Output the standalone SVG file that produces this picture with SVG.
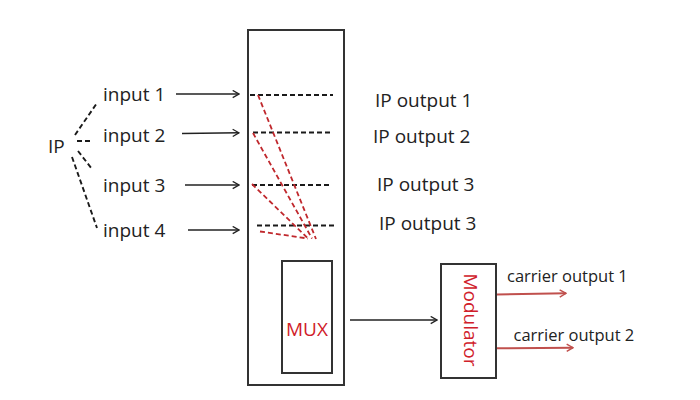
<svg xmlns="http://www.w3.org/2000/svg" width="700" height="400" viewBox="0 0 700 400">
<defs>
<style>
.t{font-family:"Open Sans","Liberation Sans",sans-serif;font-size:19px;fill:#222}
.c{font-family:"Open Sans","Liberation Sans",sans-serif;font-size:16.5px;fill:#222}
.r{fill:#d0202a}
.box{fill:#fff;stroke:#333;stroke-width:2}
.arr{stroke:#222;stroke-width:1.6;fill:none}
.dk{stroke:#1a1a1a;stroke-width:1.9;stroke-dasharray:5 3;fill:none}
.dr{stroke:#c0282d;stroke-width:1.8;stroke-dasharray:5 3;fill:none}
.ca{stroke:#c0504d;stroke-width:2;fill:none}
</style>
<marker id="ab" viewBox="0 0 10 10" refX="9" refY="5" markerWidth="9" markerHeight="9" markerUnits="userSpaceOnUse" orient="auto">
<path d="M2,1 L9,5 L2,9" fill="none" stroke="#222" stroke-width="1.4"/>
</marker>
<marker id="ar" viewBox="0 0 10 10" refX="9" refY="5" markerWidth="9" markerHeight="9" markerUnits="userSpaceOnUse" orient="auto">
<path d="M2,1 L9,5 L2,9" fill="none" stroke="#c0504d" stroke-width="1.6"/>
</marker>
</defs>
<rect width="700" height="400" fill="#fff"/>

<g id="mainbox">
<rect class="box" x="248" y="30" width="96" height="355"/>
</g>
<g id="mux">
<rect class="box" x="282" y="261" width="50" height="112"/>
<text class="t r" x="307" y="336" text-anchor="middle">MUX</text>
</g>
<g id="modulator">
<rect class="box" x="441" y="264" width="55" height="114"/>
<text class="t r" transform="translate(470,320) rotate(90)" x="0" y="6" text-anchor="middle">Modulator</text>
</g>

<g id="ip"><text class="t" x="48" y="153">IP</text></g>
<g id="input1"><text class="t" x="103" y="101">input 1</text></g>
<g id="input2"><text class="t" x="103" y="142">input 2</text></g>
<g id="input3"><text class="t" x="103" y="192">input 3</text></g>
<g id="input4"><text class="t" x="103" y="237">input 4</text></g>

<g id="outputs">
<text class="t" x="375" y="106.5">IP output 1</text>
<text class="t" x="373" y="143">IP output 2</text>
<text class="t" x="377" y="191">IP output 3</text>
<text class="t" x="379" y="230">IP output 3</text>
</g>

<g id="carriers">
<text class="c" x="507" y="281.5">carrier output 1</text>
<text class="c" x="513.5" y="341">carrier output 2</text>
</g>

<g id="connectors">
<line class="dk" x1="75" y1="135" x2="97" y2="103"/>
<line class="dk" x1="77" y1="141" x2="91" y2="141"/>
<line class="dk" x1="78" y1="151" x2="92" y2="169"/>
<line class="dk" x1="72" y1="157" x2="97" y2="228"/>

<line class="arr" x1="176" y1="94" x2="239" y2="94" marker-end="url(#ab)"/>
<line class="arr" x1="182" y1="133.5" x2="239" y2="132.8" marker-end="url(#ab)"/>
<line class="arr" x1="185" y1="185" x2="239" y2="185" marker-end="url(#ab)"/>
<line class="arr" x1="188" y1="230" x2="239" y2="230" marker-end="url(#ab)"/>

<line class="dk" x1="250" y1="95" x2="333" y2="95"/>
<line class="dk" x1="253" y1="132.5" x2="331" y2="132.5"/>
<line class="dk" x1="252" y1="185" x2="332" y2="185"/>
<line class="dk" x1="257" y1="225.5" x2="334" y2="225.5"/>

<line class="dr" x1="258" y1="95" x2="316" y2="239"/>
<line class="dr" x1="253" y1="133" x2="312" y2="238.5"/>
<line class="dr" x1="252" y1="184" x2="307" y2="237.5"/>
<line class="dr" x1="260" y1="231.5" x2="308" y2="238.5"/>

<line class="arr" x1="350" y1="320" x2="437" y2="320" marker-end="url(#ab)"/>

<line class="ca" x1="497" y1="294.5" x2="566" y2="293.3" marker-end="url(#ar)"/>
<line class="ca" x1="497" y1="348.3" x2="573" y2="347.7" marker-end="url(#ar)"/>
</g>
</svg>
